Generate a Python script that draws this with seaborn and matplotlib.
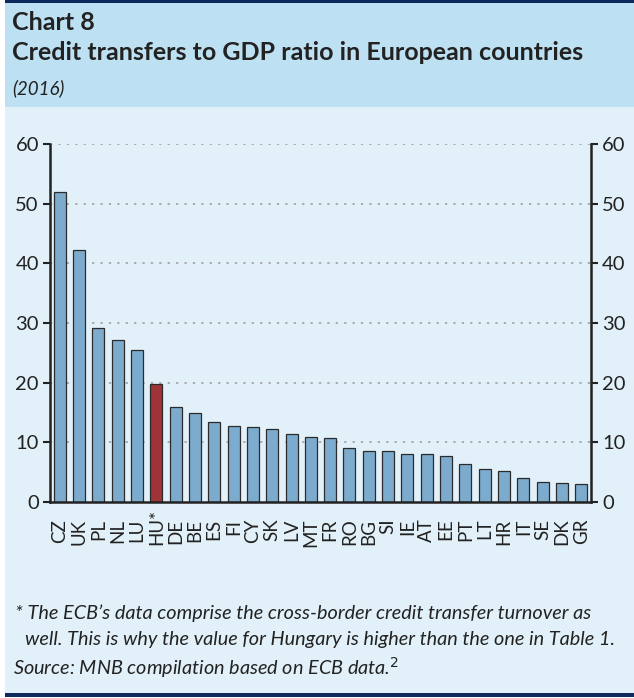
import matplotlib
matplotlib.use("Agg")
import matplotlib.pyplot as plt
import matplotlib.transforms as mtransforms
import seaborn as sns
import pandas as pd

# adatok
countries = ["CZ", "UK", "PL", "NL", "LU", "HU*", "DE", "BE", "ES", "FI", "CY", "SK", "LV", "MT",
             "FR", "RO", "BG", "SI", "IE", "AT", "EE", "PT", "LT", "HR", "IT", "SE", "DK", "GR"]
values = [51.9, 42.3, 29.1, 27.2, 25.4, 19.8, 15.9, 15.0, 13.4, 12.7, 12.5, 12.2, 11.4, 10.9,
          10.7, 9.0, 8.6, 8.6, 8.0, 8.0, 7.7, 6.4, 5.5, 5.2, 4.1, 3.4, 3.2, 3.0]
highlight = "HU*"
y_ticks = [0, 10, 20, 30, 40, 50, 60]

df = pd.DataFrame({"country": countries, "value": values})

sns.set_style("white")
plt.rcParams["font.family"] = ["Lato", "DejaVu Sans"]

W, H = 634, 698
fig = plt.figure(figsize=(W / 100, H / 100), dpi=100)
fig.patch.set_facecolor("white")

# háttér panelek
bg = fig.add_axes([0, 0, 1, 1], zorder=-5)
bg.set_xlim(0, W)
bg.set_ylim(H, 0)
bg.axis("off")
bg.add_patch(plt.Rectangle((5, 3), W - 5, 104, color="#bde1f2", lw=0))
bg.add_patch(plt.Rectangle((5, 107), W - 5, 587, color="#e2f1f9", lw=0))
bg.add_patch(plt.Rectangle((5, 0), W - 5, 3, color="#0e2a5c", lw=0))
bg.add_patch(plt.Rectangle((5, 693), W - 5, 4, color="#0e2a5c", lw=0))

bg.text(12, 22, "Chart 8", fontsize=18, fontweight="bold", color="#222222", va="center")
bg.text(12, 53, "Credit transfers to GDP ratio in European countries", fontsize=18,
        fontweight="bold", color="#222222", va="center")
bg.text(12, 88, "(2016)", fontsize=13.5, style="italic", color="#222222", va="center")

bg.text(15, 613, "* The ECB\u2019s data comprise the cross-border credit transfer turnover as",
        fontsize=14.3, style="italic", color="#222222", va="center")
bg.text(25, 640, "well. This is why the value for Hungary is higher than the one in Table 1.",
        fontsize=14.3, style="italic", color="#222222", va="center")
bg.text(13, 668, "Source: MNB compilation based on ECB data.$^{2}$",
        fontsize=14.3, style="italic", color="#222222", va="center")

# diagram
ax = fig.add_axes([50 / W, (H - 502) / H, 541 / W, 358 / H])
ax.set_facecolor("none")
palette = ["#b22126" if c == highlight else "#6eaddb" for c in countries]
sns.barplot(data=df, x="country", y="value", hue="country", palette=palette, legend=False,
            width=0.62, edgecolor="#2b2b2b", linewidth=0.9, ax=ax, zorder=3)

ax.set_xlim(-0.5, len(countries) - 0.5)
ax.set_ylim(0, 60)
ax.set_yticks(y_ticks)
ax.set_xlabel("")
ax.set_ylabel("")

for y in y_ticks[1:]:
    ax.axhline(y, color="#9a9a9a", lw=1.1, ls=(0, (1.5, 4)), zorder=1)

ax.set_xticks(range(len(countries)))
ax.set_xticklabels(countries, rotation=90, fontsize=13.5, color="#222222")
ax.set_xticks([i - 0.5 for i in range(len(countries) + 1)], minor=True)
ax.tick_params(axis="x", which="major", length=0, pad=12)
ax.tick_params(axis="x", which="minor", length=5, width=1.5, direction="out", color="#222222")
ax.tick_params(axis="y", which="major", length=5, width=1.5, direction="out", color="#222222",
               left=True, right=True, labelleft=True, labelright=True, labelsize=14.5,
               labelcolor="#222222", pad=3)

# a csillagos HU felirat kicsit feljebb kerül, hogy a betűk egy vonalban legyenek
for lab in ax.get_xticklabels():
    if lab.get_text() == highlight:
        lab.set_transform(lab.get_transform() +
                          mtransforms.ScaledTranslation(0, 7 / 72, fig.dpi_scale_trans))

for side in ["left", "right", "bottom"]:
    ax.spines[side].set_visible(True)
    ax.spines[side].set_color("#222222")
    ax.spines[side].set_linewidth(1.8)
    ax.spines[side].set_zorder(4)
ax.spines["top"].set_visible(False)

fig.savefig("out.png", dpi=100)
